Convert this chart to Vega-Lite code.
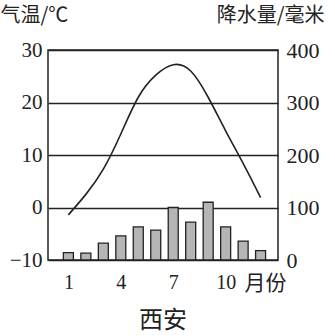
{
  "$schema": "https://vega.github.io/schema/vega-lite/v6.json",
  "width": 230,
  "height": 210,
  "autosize": {"type": "none"},
  "padding": {"left": 48, "top": 50, "right": 57, "bottom": 76},
  "background": "white",
  "data": {
    "values": [
      {"month": 1, "temp": -1.4, "precip": 14},
      {"month": 2, "temp": 2.5, "precip": 13},
      {"month": 3, "temp": 7.3, "precip": 32},
      {"month": 4, "temp": 14.0, "precip": 46},
      {"month": 5, "temp": 21.0, "precip": 63},
      {"month": 6, "temp": 25.2, "precip": 57},
      {"month": 7, "temp": 27.2, "precip": 100},
      {"month": 8, "temp": 26.0, "precip": 72},
      {"month": 9, "temp": 21.0, "precip": 110},
      {"month": 10, "temp": 14.6, "precip": 63},
      {"month": 11, "temp": 8.4, "precip": 36},
      {"month": 12, "temp": 1.9, "precip": 18}
    ]
  },
  "title": {
    "text": "西安",
    "orient": "bottom",
    "anchor": "middle",
    "font": "Noto Sans CJK SC",
    "fontSize": 24,
    "fontWeight": "normal",
    "color": "#222",
    "offset": 16
  },
  "config": {
    "view": {"stroke": "#222", "strokeWidth": 1.5},
    "axis": {
      "labelFont": "Liberation Serif",
      "labelColor": "#222",
      "titleFont": "Noto Sans CJK SC",
      "titleColor": "#222",
      "titleFontWeight": "normal",
      "ticks": false,
      "domain": false
    }
  },
  "layer": [
    {
      "mark": {"type": "bar", "width": 10, "fill": "#b5b5b5", "stroke": "#222", "strokeWidth": 1.3},
      "encoding": {
        "x": {
          "field": "month",
          "type": "quantitative",
          "scale": {"domain": [0.12, 12.71], "nice": false, "zero": false},
          "axis": {
            "values": [1, 4, 7, 10],
            "grid": false,
            "labelFontSize": 20,
            "labelPadding": 12,
            "title": "月份",
            "titleFontSize": 21,
            "titleAlign": "left",
            "titleBaseline": "middle",
            "titleX": 196,
            "titleY": 23
          }
        },
        "y": {
          "field": "precip",
          "type": "quantitative",
          "scale": {"domain": [0, 400], "nice": false},
          "axis": {
            "orient": "right",
            "values": [0, 100, 200, 300, 400],
            "grid": false,
            "labelFontSize": 22,
            "labelPadding": 8,
            "title": "降水量/毫米",
            "titleFontSize": 20,
            "titleAngle": 0,
            "titleAlign": "right",
            "titleBaseline": "middle",
            "titleX": 46,
            "titleY": -35
          }
        }
      }
    },
    {
      "mark": {"type": "line", "interpolate": "natural", "color": "#222", "strokeWidth": 1.6},
      "encoding": {
        "x": {"field": "month", "type": "quantitative"},
        "y": {
          "field": "temp",
          "type": "quantitative",
          "scale": {"domain": [-10, 30], "nice": false, "zero": false},
          "axis": {
            "orient": "left",
            "values": [-10, 0, 10, 20, 30],
            "grid": true,
            "gridColor": "#222",
            "gridWidth": 1.5,
            "gridOpacity": 1,
            "labelFontSize": 21,
            "labelPadding": 6,
            "title": "气温/℃",
            "titleFontSize": 20,
            "titleAngle": 0,
            "titleAlign": "left",
            "titleBaseline": "middle",
            "titleX": -48,
            "titleY": -35
          }
        }
      }
    }
  ],
  "resolve": {"scale": {"y": "independent"}}
}
